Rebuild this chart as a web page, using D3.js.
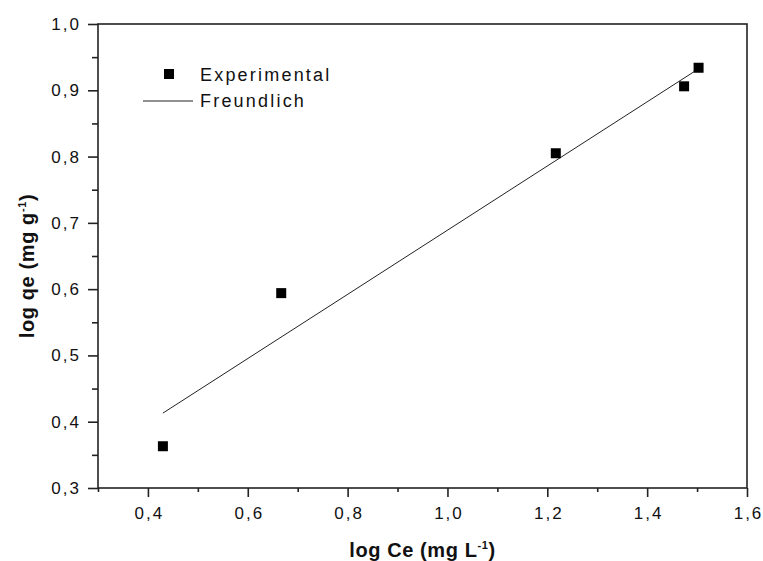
<!DOCTYPE html>
<html>
<head>
<meta charset="utf-8">
<script src="https://cdn.jsdelivr.net/npm/d3@7"></script>
<style>
    body { margin: 0; background: #fff; }
    text { font-family: Arial, 'Liberation Sans', sans-serif; fill: #111; }
    .tick-label { font-size: 17px; letter-spacing: 2px; }
    .axis-title { font-size: 20px; font-weight: bold; letter-spacing: 0.6px; }
    .legend-text { font-size: 18px; letter-spacing: 2.2px; }
</style>
</head>
<body>
<div id="chart"></div>
<script>
// data
const logCe = [0.430, 0.667, 1.217, 1.474, 1.503];
const logQe = [0.363, 0.594, 0.805, 0.906, 0.934];
// Freundlich fit line end points
const fitX = [0.43, 1.50];
const fitY = [0.413, 0.931];
const xTicks = [0.4, 0.6, 0.8, 1.0, 1.2, 1.4, 1.6];
const yTicks = [0.3, 0.4, 0.5, 0.6, 0.7, 0.8, 0.9, 1.0];
const legendLabels = ['Experimental', 'Freundlich'];

const W = 763, H = 561;
const margin = { top: 24, right: 16, bottom: 73, left: 98 },
    width = W - margin.left - margin.right,
    height = H - margin.top - margin.bottom;

const svg = d3.select('#chart')
    .append('svg')
    .attr('width', W)
    .attr('height', H)
    .append('g')
    .attr('transform', 'translate(' + margin.left + ',' + margin.top + ')');

const xScale = d3.scaleLinear().domain([0.3, 1.6]).range([0, width]);
const yScale = d3.scaleLinear().domain([0.3, 1.0]).range([height, 0]);

const fmt = d => d3.format('.1f')(d).replace('.', ',');

// minor ticks (every 0.1 on x, every 0.05 on y)
const xMinor = d3.range(0.3, 1.61, 0.1).map(d => +d.toFixed(2)).filter(d => !xTicks.includes(d));
const yMinor = d3.range(0.35, 1.0, 0.1).map(d => +d.toFixed(2));

const xAxisG = svg.append('g')
    .attr('transform', 'translate(0,' + height + ')')
    .call(d3.axisBottom(xScale).tickValues(xTicks).tickSize(9).tickPadding(10).tickFormat(fmt));
xAxisG.append('g')
    .call(d3.axisBottom(xScale).tickValues(xMinor).tickSize(4).tickFormat(''))
    .select('.domain').remove();

const yAxisG = svg.append('g')
    .call(d3.axisLeft(yScale).tickValues(yTicks).tickSize(10).tickPadding(7).tickFormat(fmt));
yAxisG.append('g')
    .call(d3.axisLeft(yScale).tickValues(yMinor).tickSize(6).tickFormat(''))
    .select('.domain').remove();

svg.selectAll('.domain').remove();
svg.selectAll('.tick line').attr('stroke', '#222').attr('stroke-width', 1.6);
svg.selectAll('.tick text')
    .attr('class', 'tick-label')
    .attr('font-family', null)
    .attr('font-size', null);
// compensate trailing letter-spacing on centred labels
xAxisG.selectAll('.tick-label').attr('dx', 1);

// frame
svg.append('rect')
    .attr('width', width)
    .attr('height', height)
    .attr('fill', 'none')
    .attr('stroke', '#222')
    .attr('stroke-width', 1.6);

// fit line
svg.append('path')
    .datum(fitX.map((x, i) => [x, fitY[i]]))
    .attr('d', d3.line().x(d => xScale(d[0])).y(d => yScale(d[1])))
    .attr('fill', 'none')
    .attr('stroke', '#222')
    .attr('stroke-width', 1);

// points
svg.append('g')
    .selectAll('rect')
    .data(logCe.map((x, i) => [x, logQe[i]]))
    .enter()
    .append('rect')
    .attr('x', d => xScale(d[0]) - 5)
    .attr('y', d => yScale(d[1]) - 5)
    .attr('width', 10)
    .attr('height', 10)
    .attr('fill', '#000');

// legend
const legend = svg.append('g');
legend.append('rect')
    .attr('x', 71 - 5).attr('y', 50 - 5)
    .attr('width', 10).attr('height', 10)
    .attr('fill', '#000');
legend.append('text')
    .attr('class', 'legend-text')
    .attr('x', 102).attr('y', 57)
    .text(legendLabels[0]);
legend.append('line')
    .attr('x1', 45).attr('x2', 95)
    .attr('y1', 77).attr('y2', 77)
    .attr('stroke', '#222').attr('stroke-width', 1.2);
legend.append('text')
    .attr('class', 'legend-text')
    .attr('x', 102).attr('y', 83)
    .text(legendLabels[1]);

// axis titles
const xt = svg.append('text')
    .attr('class', 'axis-title')
    .attr('x', width / 2)
    .attr('y', height + 69)
    .attr('text-anchor', 'middle');
xt.append('tspan').text('log Ce (mg L');
xt.append('tspan').attr('dy', -8).attr('font-size', 11).text('-1');
xt.append('tspan').attr('dy', 8).text(')');

const yt = svg.append('text')
    .attr('class', 'axis-title')
    .attr('transform', 'translate(' + (-64) + ',' + (height / 2 + 10) + ') rotate(-90)')
    .attr('text-anchor', 'middle');
yt.append('tspan').text('log qe (mg g');
yt.append('tspan').attr('dy', -8).attr('font-size', 11).text('-1');
yt.append('tspan').attr('dy', 8).text(')');
</script>
</body>
</html>
